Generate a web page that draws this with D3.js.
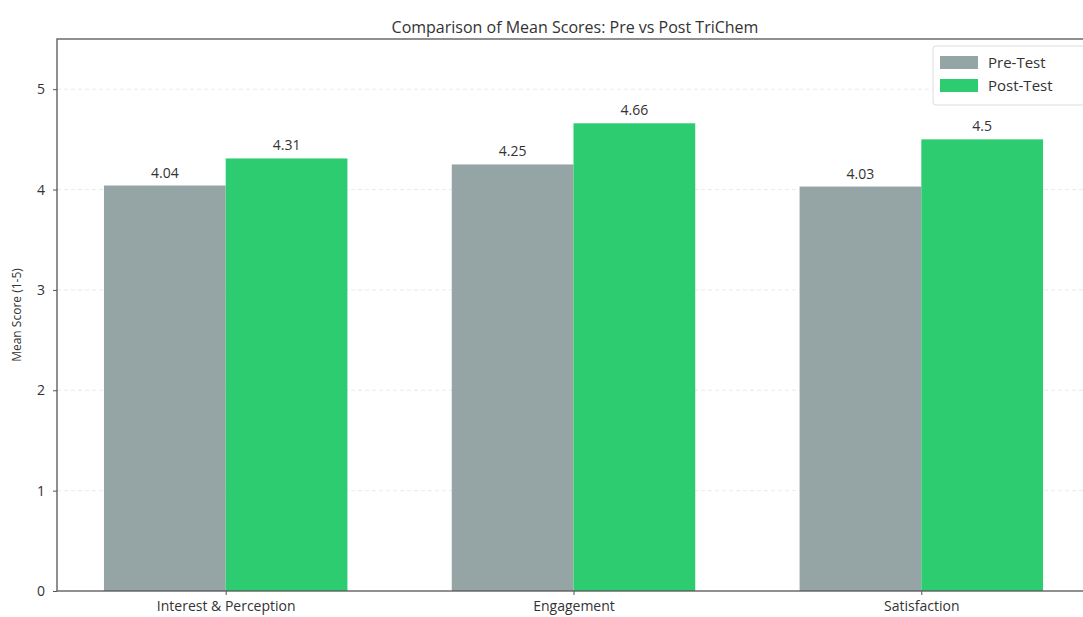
<!DOCTYPE html>
<html>
<head>
<meta charset="utf-8">
<script src="https://cdn.jsdelivr.net/npm/d3@7"></script>
<style>
    body { margin: 0; background: #fff; }
    svg { display: block; font-family: "Open Sans", "Noto Sans", sans-serif; }
</style>
</head>
<body>
<div id="chart"></div>
<script>
'use strict';

// Data
const categories = ['Interest & Perception', 'Engagement', 'Satisfaction'];
const preTest = [4.04, 4.25, 4.03];
const postTest = [4.31, 4.66, 4.5];
const seriesNames = ['Pre-Test', 'Post-Test'];
const yTicks = [0, 1, 2, 3, 4, 5];

// Config
const w = 1083;
const h = 617;
const margin = {top: 39, right: -7, bottom: 26, left: 57};
const colors = ['#95a5a6', '#2ecc71'];
const barW = 0.35;

const svg = d3.select('#chart')
    .append('svg')
    .attr('width', w)
    .attr('height', h);

// Scales (matplotlib-style numeric x positions)
const pad = 0.05 * (categories.length - 1 + 2 * barW);
const x = d3.scaleLinear()
    .domain([-barW - pad, categories.length - 1 + barW + pad])
    .range([margin.left, w - margin.right]);
const y = d3.scaleLinear()
    .domain([0, 5.5])
    .range([h - margin.bottom, margin.top]);

// Grid
svg.append('g')
    .attr('class', 'grid')
    .selectAll('line')
    .data(yTicks.filter(d => d > 0))
    .join('line')
    .attr('x1', x.range()[0])
    .attr('x2', x.range()[1])
    .attr('y1', d => y(d))
    .attr('y2', d => y(d))
    .attr('stroke', '#e6e6e6')
    .attr('stroke-width', 0.8)
    .attr('stroke-dasharray', '4,3');

// Bars
const series = [preTest, postTest];
series.forEach((vals, s) => {
    const off = s === 0 ? -barW / 2 : barW / 2;
    svg.append('g')
        .attr('class', 'bars')
        .selectAll('rect')
        .data(vals)
        .join('rect')
        .attr('x', (d, i) => x(i + off - barW / 2))
        .attr('y', d => y(d))
        .attr('width', x(barW) - x(0))
        .attr('height', d => y(0) - y(d))
        .attr('fill', colors[s]);

    svg.append('g')
        .attr('class', 'labels')
        .selectAll('text')
        .data(vals)
        .join('text')
        .attr('x', (d, i) => x(i + off))
        .attr('y', d => y(d) - 8)
        .attr('text-anchor', 'middle')
        .attr('font-size', 14)
        .attr('fill', '#333')
        .text(d => d);
});

// Axes
const yAxis = svg.append('g')
    .attr('transform', `translate(${margin.left},0)`)
    .call(d3.axisLeft(y).tickValues(yTicks).tickFormat(d3.format('d')).tickSize(4).tickPadding(8));
const xAxis = svg.append('g')
    .attr('transform', `translate(0,${h - margin.bottom})`)
    .call(d3.axisBottom(x).tickValues(d3.range(categories.length)).tickFormat(i => categories[i]).tickSize(4).tickPadding(6));

[xAxis, yAxis].forEach(a => {
    a.select('.domain').remove();
    a.selectAll('line').attr('stroke', '#555');
    a.selectAll('text').attr('font-size', 14).attr('fill', '#333').attr('font-family', '"Open Sans", sans-serif');
});

// Frame
svg.append('rect')
    .attr('x', x.range()[0])
    .attr('y', y.range()[1])
    .attr('width', x.range()[1] - x.range()[0])
    .attr('height', y.range()[0] - y.range()[1])
    .attr('fill', 'none')
    .attr('stroke', '#555')
    .attr('stroke-width', 1.3);

// Title
svg.append('text')
    .attr('x', 575)
    .attr('y', 33)
    .attr('text-anchor', 'middle')
    .attr('font-size', 16)
    .attr('fill', '#333')
    .text('Comparison of Mean Scores: Pre vs Post TriChem');

// Y label
svg.append('text')
    .attr('transform', `translate(21,${y(2.75)}) rotate(-90)`)
    .attr('text-anchor', 'middle')
    .attr('font-size', 12)
    .attr('fill', '#333')
    .text('Mean Score (1-5)');

// Legend
const lg = svg.append('g')
    .attr('transform', 'translate(933,46)');
lg.append('rect')
    .attr('width', 160)
    .attr('height', 59)
    .attr('rx', 3)
    .attr('fill', '#fff')
    .attr('stroke', '#ddd');
seriesNames.forEach((n, i) => {
    lg.append('rect')
        .attr('x', 7)
        .attr('y', 10 + i * 23)
        .attr('width', 38)
        .attr('height', 13)
        .attr('fill', colors[i]);
    lg.append('text')
        .attr('x', 55)
        .attr('y', 22 + i * 23)
        .attr('font-size', 15)
        .attr('fill', '#333')
        .text(n);
});
</script>
</body>
</html>
